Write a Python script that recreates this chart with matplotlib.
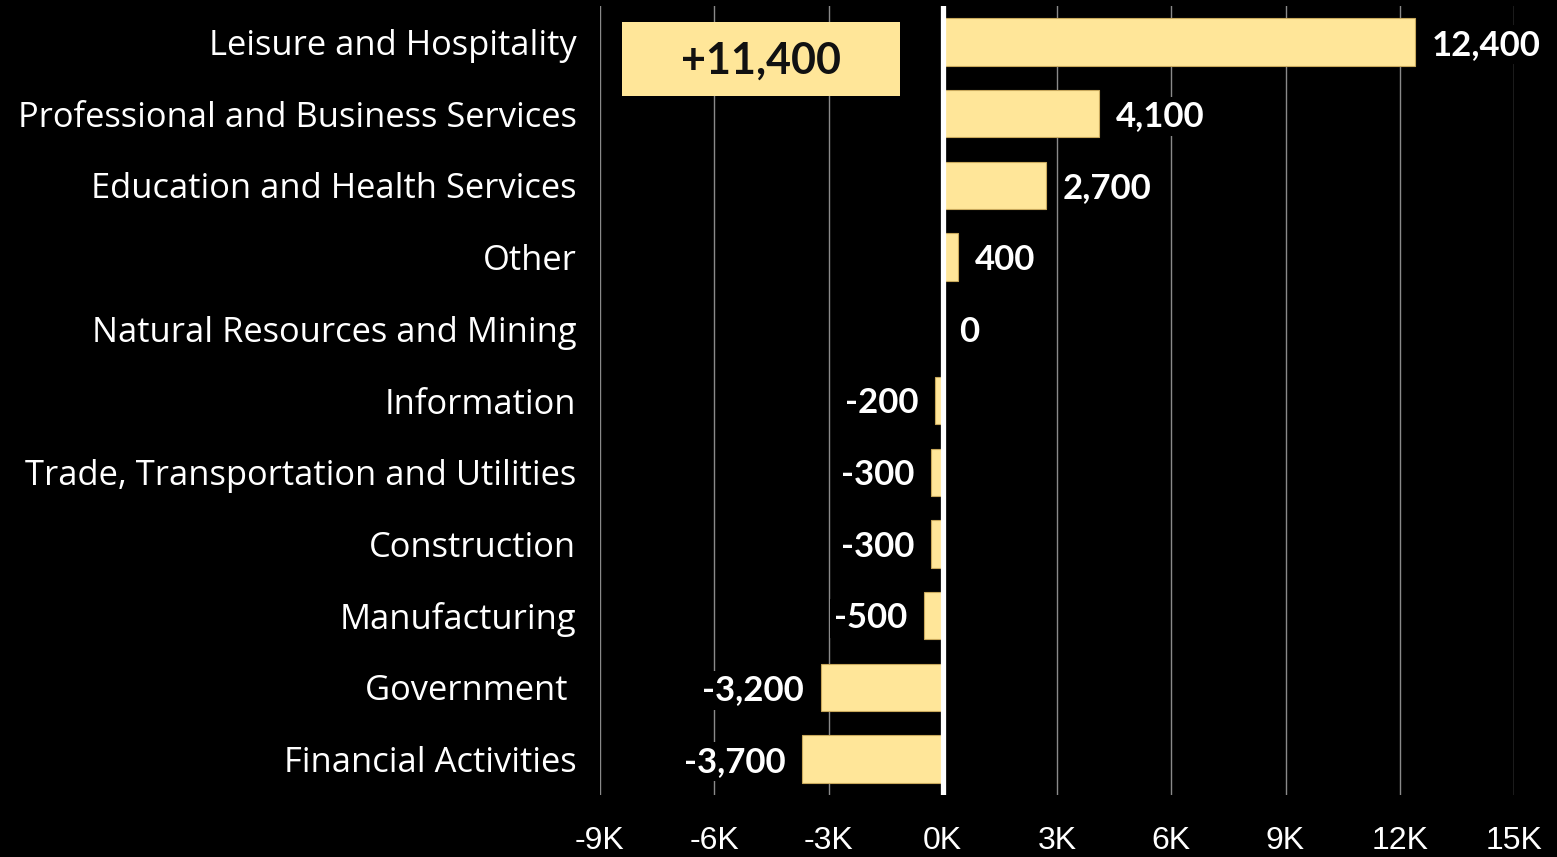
import matplotlib.pyplot as plt
from matplotlib.patches import Rectangle
from matplotlib.ticker import FuncFormatter

# 行业就业变化（人数）
CATEGORIES = [
    "Leisure and Hospitality",
    "Professional and Business Services",
    "Education and Health Services",
    "Other",
    "Natural Resources and Mining",
    "Information",
    "Trade, Transportation and Utilities",
    "Construction",
    "Manufacturing",
    "Government ",
    "Financial Activities",
]
VALUES = [12400, 4100, 2700, 400, 0, -200, -300, -300, -500, -3200, -3700]
XTICKS = [-9000, -6000, -3000, 0, 3000, 6000, 9000, 12000, 15000]
TOTAL_LABEL = "+11,400"

BAR_COLOR = "#FFE699"
BAR_EDGE = "#C8A85C"
CAT_FONT = ["Open Sans", "DejaVu Sans"]
LABEL_FONT = ["Lato", "DejaVu Sans"]
TICK_FONT = ["Liberation Sans Narrow", "Liberation Sans", "DejaVu Sans"]

fig = plt.figure(figsize=(15.57, 8.57), dpi=100, facecolor="black")
ax = fig.add_axes([600 / 1557, 62 / 857, 914 / 1557, 789 / 857])
ax.set_facecolor("black")

y = list(range(len(CATEGORIES)))
ax.barh(y, VALUES, height=0.66, color=BAR_COLOR, edgecolor=BAR_EDGE,
        linewidth=0.8, zorder=3)

ax.set_xlim(-9000, 15000)
ax.set_ylim(len(CATEGORIES) - 0.5, -0.5)
ax.set_xticks(XTICKS)
ax.xaxis.set_major_formatter(FuncFormatter(lambda v, _: f"{int(v / 1000)}K"))
ax.grid(axis="x", color="#8a8a8a", linewidth=1.0, zorder=0)
ax.axvline(0, color="white", linewidth=3.8, zorder=4)

for s in ax.spines.values():
    s.set_visible(False)

ax.set_yticks(y)
ax.set_yticklabels(CATEGORIES)
ax.tick_params(axis="y", length=0, pad=17, colors="white", labelsize=24.8)
ax.tick_params(axis="x", length=0, pad=22, colors="white", labelsize=23)
for lab in ax.get_yticklabels():
    lab.set_family(CAT_FONT)
for lab in ax.get_xticklabels():
    lab.set_family(TICK_FONT)

# 数据标签（黑底遮住网格线）
for yi, v in zip(y, VALUES):
    if v >= 0:
        off, ha = 12, "left"
    else:
        off, ha = -12, "right"
    ax.annotate(f"{v:,}", xy=(v, yi), xytext=(off, -2), textcoords="offset points",
                ha=ha, va="center", color="white", fontsize=25, fontweight="bold",
                family=LABEL_FONT, zorder=5,
                bbox=dict(boxstyle="square,pad=0.1", fc="black", ec="none"))

# 合计框
ax.add_patch(Rectangle((0.024, 0.886), 0.304, 0.094, transform=ax.transAxes,
                       facecolor=BAR_COLOR, edgecolor="none", zorder=5))
ax.text(0.176, 0.931, TOTAL_LABEL, transform=ax.transAxes, ha="center",
        va="center", fontsize=31, fontweight="bold", color="#111111",
        family=LABEL_FONT, zorder=6)

fig.savefig("out.png", dpi=100, facecolor="black")
